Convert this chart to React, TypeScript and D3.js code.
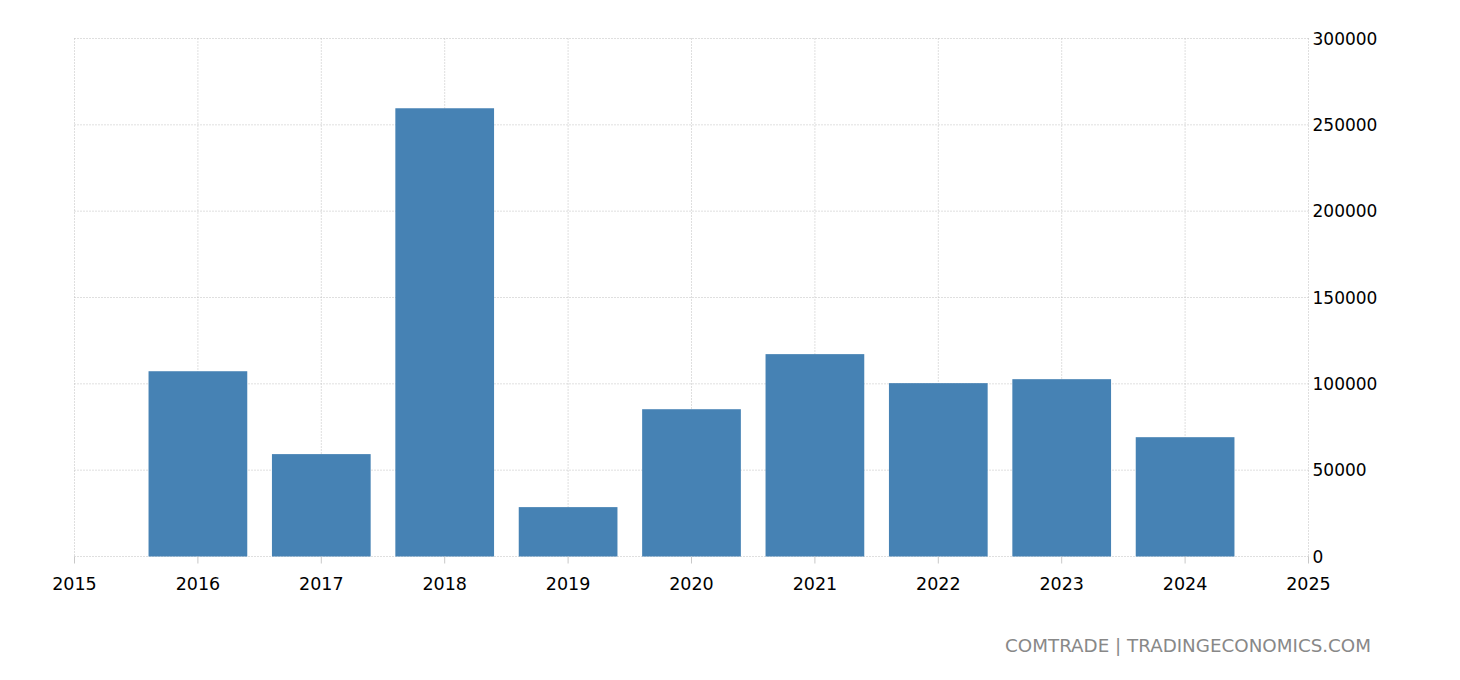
import { useEffect, useRef } from 'react';
import * as d3 from 'd3';

const years = [2016, 2017, 2018, 2019, 2020, 2021, 2022, 2023, 2024];
const values = [107300, 59300, 259600, 28600, 85300, 117200, 100400, 102700, 69100];
const yTicks = [0, 50000, 100000, 150000, 200000, 250000, 300000];
const xTicks = [2015, 2016, 2017, 2018, 2019, 2020, 2021, 2022, 2023, 2024, 2025];
const source = 'COMTRADE | TRADINGECONOMICS.COM';

const App = () => {
  const svgRef = useRef<SVGSVGElement>(null);

  useEffect(() => {
    const svg = d3.select(svgRef.current);
    svg.selectAll('*').remove();

    const width = 1460;
    const height = 680;
    const margin = { top: 38.5, right: 151.5, bottom: 123.5, left: 74.5 };
    const font = '"DejaVu Sans", Verdana, sans-serif';

    const x = d3.scaleLinear()
      .domain([2015, 2025])
      .range([margin.left, width - margin.right]);

    const y = d3.scaleLinear()
      .domain([0, 300000])
      .range([height - margin.bottom, margin.top]);

    const barW = (x(2016) - x(2015)) * 0.8;

    const grid = svg.append('g');
    grid.selectAll('line.h')
      .data(yTicks)
      .enter().append('line')
      .attr('x1', margin.left)
      .attr('x2', width - margin.right)
      .attr('y1', d => y(d))
      .attr('y2', d => y(d))
      .attr('stroke', '#bfbfbf')
      .attr('stroke-dasharray', '1,2');
    grid.selectAll('line.v')
      .data(xTicks)
      .enter().append('line')
      .attr('x1', d => x(d))
      .attr('x2', d => x(d))
      .attr('y1', margin.top)
      .attr('y2', height - margin.bottom)
      .attr('stroke', '#bfbfbf')
      .attr('stroke-dasharray', '1,2');

    svg.append('g')
      .selectAll('rect')
      .data(years)
      .enter().append('rect')
      .attr('x', (d) => x(d) - barW / 2)
      .attr('width', barW)
      .attr('y', (d, i) => y(values[i]))
      .attr('height', (d, i) => y(0) - y(values[i]))
      .attr('fill', '#4682b4');

    // x ticks
    svg.append('g')
      .selectAll('line')
      .data(xTicks)
      .enter().append('line')
      .attr('x1', d => x(d))
      .attr('x2', d => x(d))
      .attr('y1', y(0))
      .attr('y2', y(0) + 7)
      .attr('stroke', '#c8c8c8');

    svg.append('g')
      .selectAll('text')
      .data(xTicks)
      .enter().append('text')
      .attr('x', d => x(d))
      .attr('y', y(0) + 33)
      .attr('text-anchor', 'middle')
      .attr('font-family', font)
      .attr('font-size', 17.5)
      .attr('fill', '#000')
      .text(d => d);

    svg.append('g')
      .selectAll('text')
      .data(yTicks)
      .enter().append('text')
      .attr('x', width - margin.right + 4)
      .attr('y', d => y(d) + 6)
      .attr('font-family', font)
      .attr('font-size', 17)
      .attr('fill', '#000')
      .text(d => d);

    svg.append('text')
      .attr('x', 1371)
      .attr('y', 652)
      .attr('text-anchor', 'end')
      .attr('font-family', font)
      .attr('font-size', 18.3)
      .attr('fill', '#888')
      .text(source);
  }, []);

  return (
    <div style={{ position: 'absolute', left: 0, top: 0 }}>
      <svg ref={svgRef} width={1460} height={680} style={{ display: 'block', background: '#fff' }}></svg>
    </div>
  );
};

export default App;
